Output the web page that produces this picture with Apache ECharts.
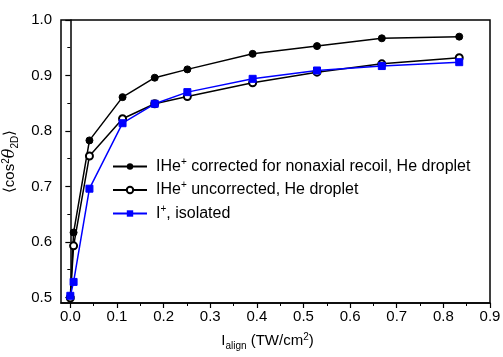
<!DOCTYPE html>
<html>
<head>
<meta charset="utf-8">
<script src="https://cdn.jsdelivr.net/npm/echarts@6/dist/echarts.min.js"></script>
<style>html,body{margin:0;padding:0;background:#fff}#c{width:503px;height:357px}</style>
</head>
<body>
<div id="c"></div>
<script>
var xValues = [0, 0.007, 0.041, 0.112, 0.181, 0.251, 0.391, 0.529, 0.668, 0.834];
var corrected = [0.502, 0.617, 0.783, 0.861, 0.896, 0.911, 0.939, 0.953, 0.967, 0.970];
var uncorrected = [0.499, 0.593, 0.755, 0.822, 0.849, 0.862, 0.887, 0.906, 0.921, 0.932];
var isolated = [0.503, 0.528, 0.696, 0.814, 0.849, 0.870, 0.894, 0.909, 0.917, 0.924];
var seriesNames = ['corr', 'uncorr', 'iso'];
var legendLabels = {
  corr: '{f|IHe}{s|+}{n| corrected for nonaxial recoil, He droplet}',
  uncorr: '{f|IHe}{s|+}{n| uncorrected, He droplet}',
  iso: '{f|I}{s|+}{n|, isolated}'
};
var xTicks = [0, 0.1, 0.2, 0.3, 0.4, 0.5, 0.6, 0.7, 0.8, 0.9];
var xMinorTicks = [0.05, 0.15, 0.25, 0.35, 0.45, 0.55, 0.65, 0.75, 0.85];
var yTicks = [0.5, 0.6, 0.7, 0.8, 0.9, 1.0];
var yMinorTicks = [0.55, 0.65, 0.75, 0.85, 0.95];

function pairs(ys) { return xValues.map(function (x, i) { return [x, ys[i]]; }); }

var FONT = 'Liberation Sans, Arial, sans-serif';
var chart = echarts.init(document.getElementById('c'), null, {renderer: 'canvas'});
var axisLine = {show: true, lineStyle: {color: '#000', width: 1.5}};
var opt = {
  animation: false,
  backgroundColor: '#fff',
  grid: {left: 61, right: 13, top: 20, bottom: 54, show: true, borderColor: '#000', borderWidth: 1.5,
    containLabel: false, outerBoundsMode: 'none'},
  legend: {
    orient: 'vertical', left: 112, top: 157, padding: 0, itemWidth: 34, itemHeight: 8, itemGap: 6,
    data: seriesNames,
    formatter: function (n) { return legendLabels[n]; },
    textStyle: {
      color: '#000',
      rich: {
        f: {fontFamily: FONT, fontSize: 16, color: '#000', padding: [0, 0, 0, 4]},
        n: {fontFamily: FONT, fontSize: 16, color: '#000'},
        s: {fontFamily: FONT, fontSize: 10, color: '#000', verticalAlign: 'bottom', padding: [0, 0, 9, 0]}
      }
    }
  },
  xAxis: [{
    type: 'value', min: -0.02, max: 0.9,
    axisLine: axisLine,
    axisTick: {show: true, inside: false, length: 5, customValues: xTicks, lineStyle: {color: '#000', width: 1.2}},
    axisLabel: {customValues: xTicks, color: '#000', fontFamily: FONT, fontSize: 15, margin: 6,
      formatter: function (v) { return v.toFixed(1); }},
    splitLine: {show: false},
    name: '{n|I}{sub|align}{n| (TW/cm}{sup|2}{n|)}',
    nameLocation: 'middle', nameGap: 27,
    nameTextStyle: {padding: [0, 16, 0, 0], rich: {
      n: {fontFamily: FONT, fontSize: 15, color: '#000'},
      sub: {fontFamily: FONT, fontSize: 10, color: '#000', verticalAlign: 'top', padding: [11, 0, 0, 0]},
      sup: {fontFamily: FONT, fontSize: 10, color: '#000', verticalAlign: 'bottom', padding: [0, 0, 9, 0]}
    }}
  }, {
    type: 'value', min: -0.02, max: 0.9, position: 'bottom',
    axisLine: {show: false},
    axisTick: {show: true, inside: false, length: 3, customValues: xMinorTicks, lineStyle: {color: '#000', width: 1}},
    axisLabel: {show: false}, splitLine: {show: false}
  }],
  yAxis: [{
    type: 'value', min: 0.49, max: 1.0,
    axisLine: axisLine,
    axisTick: {show: true, inside: false, length: 5, customValues: yTicks, lineStyle: {color: '#000', width: 1.2}},
    axisLabel: {customValues: yTicks, color: '#000', fontFamily: FONT, fontSize: 15, margin: 9,
      formatter: function (v) { return v.toFixed(1); }},
    splitLine: {show: false},
    name: '{n|\u27E8cos}{sup|2}{th|\u03B8}{sub|2D}{n|\u27E9}',
    nameLocation: 'middle', nameGap: 32, nameRotate: 90,
    nameTextStyle: {rich: {
      n: {fontFamily: FONT, fontSize: 15, color: '#000'},
      th: {fontFamily: 'DejaVu Serif, serif', fontStyle: 'italic', fontSize: 16, color: '#000'},
      sub: {fontFamily: FONT, fontSize: 10, color: '#000', verticalAlign: 'top', padding: [11, 0, 0, 0]},
      sup: {fontFamily: FONT, fontSize: 10, color: '#000', verticalAlign: 'bottom', padding: [0, 0, 9, 0]}
    }}
  }, {
    type: 'value', min: 0.49, max: 1.0, position: 'left',
    axisLine: {show: false},
    axisTick: {show: true, inside: false, length: 3, customValues: yMinorTicks, lineStyle: {color: '#000', width: 1}},
    axisLabel: {show: false}, splitLine: {show: false}
  }],
  series: [{
    name: 'corr', type: 'line', data: pairs(corrected),
    symbol: 'circle', symbolSize: 7,
    lineStyle: {color: '#000', width: 1.5},
    itemStyle: {color: '#000', borderColor: '#000'}
  }, {
    name: 'uncorr', type: 'line', data: pairs(uncorrected),
    symbol: 'emptyCircle', symbolSize: 7,
    lineStyle: {color: '#000', width: 1.5},
    itemStyle: {color: '#000', borderColor: '#000', borderWidth: 1}
  }, {
    name: 'iso', type: 'line', data: pairs(isolated),
    symbol: 'rect', symbolSize: 7,
    lineStyle: {color: '#0000ff', width: 1.5},
    itemStyle: {color: '#0000ff', borderColor: '#0000ff'}
  }]
};
chart.setOption(opt);
</script>
</body>
</html>
